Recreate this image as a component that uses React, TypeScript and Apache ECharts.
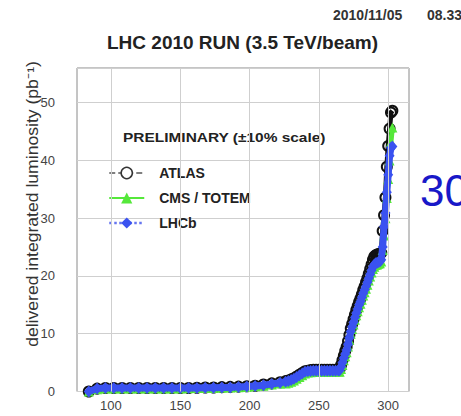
import React, { useEffect, useRef } from "react";
import * as echarts from "echarts";

// Day of year (2010)
const days = [
  84, 90, 96, 102, 108, 114, 120, 126, 132, 138, 144, 150, 156, 162, 168, 174, 180, 186, 192, 198, 204, 210, 216, 222,
  226, 228, 230, 232, 234, 236, 238, 240, 242, 244, 246, 248, 250, 252, 254, 256, 258, 260, 262, 264,
  265, 266, 267, 268, 269, 270, 271, 272, 273, 274, 275, 276, 277, 278, 279, 280, 281, 282, 283, 284, 285, 286, 287,
  288, 289, 290, 291, 292, 293, 294, 295, 296, 297, 298, 299, 300, 301, 302, 303,
];

// delivered integrated luminosity (pb^-1)
const atlas = [
  0.0, 0.5, 0.6, 0.6, 0.6, 0.6, 0.6, 0.6, 0.6, 0.6, 0.6, 0.6, 0.6, 0.65, 0.7, 0.7, 0.75, 0.8, 0.85, 0.9, 1.0, 1.2, 1.4, 1.6,
  1.8, 1.9, 2.1, 2.3, 2.6, 2.9, 3.2, 3.5, 3.6, 3.7, 3.75, 3.75, 3.75, 3.75, 3.75, 3.75, 3.75, 3.75, 3.75, 3.8,
  3.9, 4.6, 5.4, 6.2, 7.0, 7.7, 8.7, 9.8, 10.9, 11.7, 12.5, 13.3, 14.1, 14.8, 15.5, 16.1, 16.8, 17.6, 18.2, 18.9, 19.6,
  20.4, 21.2, 22.0, 22.8, 23.4, 23.6, 23.7, 23.8, 23.8, 24.0, 27.8, 30.5, 33.6, 38.9, 42.5, 45.5, 48.3, 48.6,
];
const cms = [
  0.0, 0.4, 0.5, 0.5, 0.5, 0.5, 0.5, 0.5, 0.5, 0.5, 0.5, 0.5, 0.55, 0.6, 0.6, 0.6, 0.65, 0.7, 0.75, 0.8, 0.9, 1.0, 1.2, 1.4,
  1.4, 1.5, 1.7, 1.9, 2.2, 2.5, 2.8, 3.1, 3.3, 3.35, 3.4, 3.4, 3.4, 3.4, 3.4, 3.4, 3.4, 3.4, 3.4, 3.45,
  3.4, 3.9, 4.6, 5.4, 6.1, 6.8, 7.8, 8.9, 10.0, 10.8, 11.6, 12.4, 13.2, 13.9, 14.6, 15.2, 15.9, 16.6, 17.2, 17.8, 18.5,
  19.2, 19.9, 20.6, 21.2, 21.6, 21.9, 22.0, 22.1, 22.2, 22.5, 24.5, 27.0, 30.0, 33.5, 36.8, 40.0, 43.2, 45.7,
];
const lhcb = [
  0.0, 0.5, 0.6, 0.6, 0.6, 0.6, 0.6, 0.6, 0.6, 0.6, 0.6, 0.6, 0.6, 0.6, 0.65, 0.65, 0.7, 0.7, 0.8, 0.85, 0.95, 1.1, 1.3, 1.5,
  1.7, 1.8, 2.0, 2.2, 2.5, 2.8, 3.1, 3.4, 3.5, 3.55, 3.6, 3.6, 3.6, 3.6, 3.6, 3.6, 3.6, 3.6, 3.6, 3.65,
  3.7, 4.3, 5.0, 5.8, 6.5, 7.2, 8.2, 9.3, 10.4, 11.2, 12.0, 12.8, 13.6, 14.3, 15.0, 15.6, 16.3, 17.0, 17.6, 18.2, 18.9,
  19.6, 20.3, 21.0, 21.6, 22.0, 22.2, 22.3, 22.4, 22.5, 22.8, 25.0, 28.5, 30.9, 34.5, 37.5, 40.8, 42.2, 42.4,
];

const xTicks = [100, 150, 200, 250, 300];

const BLACK = "#111111";
const GREEN = "#55e83a";
const BLUE = "#3a52f0";
const GRIDC = "#cfcfcf";
const FONT = "Liberation Sans, Arial, sans-serif";

export default function App() {
  const ref = useRef<HTMLDivElement>(null);
  useEffect(() => {
    if (!ref.current) return;
    const chart = echarts.init(ref.current, null, { renderer: "svg" });
    const toData = (vals: number[]) => days.map((d, i) => [d, vals[i]]);
    const txt = (extra: any) => ({
      fontFamily: FONT,
      align: "left",
      verticalAlign: "middle",
      textAlign: "left",
      textVerticalAlign: "middle",
      ...extra,
    });
    chart.setOption({
      animation: false,
      grid: { left: 77, right: 52, top: 68, bottom: 24.5, show: true, borderColor: "#8a8a8a", borderWidth: 1, backgroundColor: "rgba(0,0,0,0)" },
      xAxis: {
        type: "value",
        min: 75.5,
        max: 315,
        axisLine: { show: false },
        axisTick: { show: false, customValues: xTicks },
        axisLabel: { customValues: xTicks, fontSize: 13, color: "#444", margin: 7, fontFamily: FONT },
        splitLine: { show: false },
      },
      yAxis: {
        type: "value",
        min: 0,
        max: 56,
        interval: 10,
        axisLine: { show: false },
        axisTick: { show: false },
        axisLabel: { fontSize: 13, color: "#444", margin: 22, fontFamily: FONT, showMaxLabel: false },
        splitLine: { show: true, lineStyle: { color: GRIDC, width: 1 } },
      },
      legend: {
        orient: "vertical",
        left: 103,
        top: 161,
        itemWidth: 35,
        itemHeight: 14,
        itemGap: 11,
        textStyle: { fontSize: 14, fontWeight: "bold", color: "#222", fontFamily: FONT, padding: [0, 0, 0, 10] },
        data: [
          {
            name: "ATLAS",
            lineStyle: { type: "dashed", width: 1.5, color: "#555" },
            itemStyle: { color: "#fff", borderColor: "#333", borderWidth: 1.5 },
          },
          {
            name: "CMS / TOTEM",
            lineStyle: { type: "solid", width: 2, color: GREEN },
            itemStyle: { color: GREEN, borderWidth: 0 },
          },
          {
            name: "LHCb",
            lineStyle: { type: "dotted", width: 2.5, color: "#6676f0" },
            itemStyle: { color: BLUE, borderWidth: 0 },
          },
        ],
      },
      graphic: [
        { type: "text", x: 333, y: 15, style: txt({ text: "2010/11/05", fontSize: 14, fontWeight: "bold", fill: "#333" }) },
        { type: "text", x: 427, y: 15, style: txt({ text: "08.33", fontSize: 14, fontWeight: "bold", fill: "#333" }) },
        {
          type: "text",
          x: 242.5,
          y: 42,
          style: txt({ text: "LHC 2010 RUN (3.5 TeV/beam)", fontSize: 19, fontWeight: "bold", fill: "#222", align: "center", textAlign: "center" }),
        },
        {
          type: "text",
          x: 33,
          y: 204,
          rotation: Math.PI / 2,
          scaleX: 1.1,
          style: txt({ text: "delivered integrated luminosity (pb⁻¹)", fontSize: 16, fill: "#333", align: "center", textAlign: "center" }),
        },
        {
          type: "text",
          x: 123,
          y: 137,
          scaleX: 1.19,
          style: txt({ text: "PRELIMINARY (±10% scale)", fontSize: 13, fontWeight: "bold", fill: "#222" }),
        },
        { type: "text", x: 420, y: 190, style: txt({ text: "30", fontSize: 44, fill: "#1818c8" }) },
      ],
      series: [
        {
          name: "ATLAS",
          type: "line",
          data: toData(atlas),
          symbol: "circle",
          symbolSize: 10,
          itemStyle: { color: "rgba(0,0,0,0)", borderColor: BLACK, borderWidth: 2 },
          lineStyle: { color: BLACK, width: 5 },
          z: 2,
          markLine: {
            silent: true,
            symbol: ["none", "none"],
            animation: false,
            label: { show: false },
            lineStyle: { color: GRIDC, type: "solid", width: 1 },
            data: xTicks.map((v) => ({ xAxis: v })),
          },
        },
        {
          name: "CMS / TOTEM",
          type: "line",
          data: toData(cms),
          symbol: "triangle",
          symbolSize: 10,
          itemStyle: { color: GREEN },
          lineStyle: { color: GREEN, width: 5 },
          z: 3,
        },
        {
          name: "LHCb",
          type: "line",
          data: toData(lhcb),
          symbol: "diamond",
          symbolSize: [10, 12],
          itemStyle: { color: BLUE },
          lineStyle: { color: BLUE, width: 7 },
          z: 4,
        },
      ],
    });
    return () => chart.dispose();
  }, []);
  return <div ref={ref} style={{ position: "absolute", left: 0, top: 0, width: 461, height: 416 }} />;
}
